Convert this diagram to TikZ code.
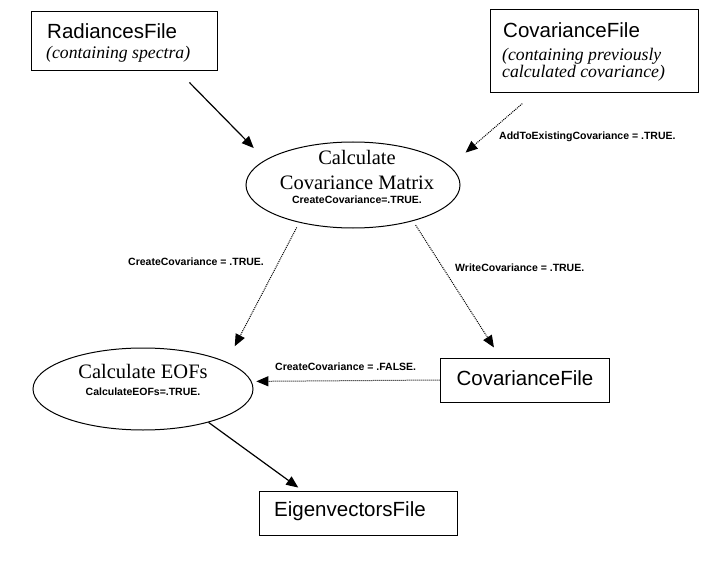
\documentclass[tikz,border=0pt]{standalone}
\usepackage{fontspec}
\setmainfont{Liberation Serif}
\setsansfont{Liberation Sans}
\usetikzlibrary{shapes.geometric,arrows.meta}
\begin{document}
\begin{tikzpicture}[x=1bp,y=-1bp,
  box/.style={draw, line width=1bp, rectangle, inner sep=0pt},
  oval/.style={draw, line width=1bp, ellipse, inner sep=0pt},
  ttl/.style={font=\sffamily\fontsize{20.5bp}{24bp}\selectfont, inner sep=0pt, anchor=base west},
  note/.style={font=\rmfamily\itshape\fontsize{17.7bp}{20bp}\selectfont, inner sep=0pt, anchor=base west},
  proc/.style={font=\rmfamily\fontsize{20.5bp}{24bp}\selectfont, inner sep=0pt, anchor=base},
  flag/.style={font=\sffamily\bfseries\fontsize{10.5bp}{12bp}\selectfont, inner sep=0pt, anchor=base west},
  solidarrow/.style={line width=1.2bp, -{Triangle[length=12bp,width=10bp]}},
  dotarrow/.style={line width=1bp, dash pattern=on 1bp off 1bp, -{Triangle[length=12bp,width=10bp]}},
]
\useasboundingbox (0,0) rectangle (714,568);

% boxes and ovals
\node[box, minimum width=185bp, minimum height=59bp] (rad) at (124.5,41.5) {};
\node[ttl] (radt) at (47,38.5) {RadiancesFile};
\node[note] (radn) at (46,58.5) {(containing spectra)};

\node[box, minimum width=208bp, minimum height=83bp] (cft) at (594,51.5) {};
\node[ttl] (cftt) at (503,38) {CovarianceFile};
\node[note] (cftn1) at (502,61) {(containing previously};
\node[note] (cftn2) at (502,78) {calculated covariance)};

\node[oval, minimum width=214bp, minimum height=86bp] (cov) at (353,185) {};
\node[proc] (cov1) at (357,165) {Calculate};
\node[proc] (cov2) at (357,190) {Covariance Matrix};
\node[flag, anchor=base] (cov3) at (357,204) {CreateCovariance=.TRUE.};

\node[oval, minimum width=220bp, minimum height=82bp] (eofs) at (143,389) {};
\node[proc] (eofs1) at (143,378) {Calculate EOFs};
\node[flag, anchor=base] (eofs2) at (143,395) {CalculateEOFs=.TRUE.};

\node[box, minimum width=169bp, minimum height=44bp] (cfb) at (524.5,380) {};
\node[ttl, anchor=base] (cfbt) at (525,385) {CovarianceFile};

\node[box, minimum width=198bp, minimum height=44bp] (eig) at (358,513) {};
\node[ttl] (eigt) at (274,516) {EigenvectorsFile};

% connector labels
\node[flag] (l1) at (499,140) {AddToExistingCovariance = .TRUE.};
\node[flag] (l2) at (128,265) {CreateCovariance = .TRUE.};
\node[flag] (l3) at (455,271) {WriteCovariance = .TRUE.};
\node[flag] (l4) at (275,370) {CreateCovariance = .FALSE.};

% connectors
\draw[solidarrow, shorten <=15.4bp, shorten >=16.5bp] (rad.-29.7) -- (cov.164.6);
\draw[dotarrow, shorten <=15.5bp, shorten >=20.7bp] (cft.-145.4) -- (cov.11.6);
\draw[dotarrow, shorten <=5.4bp, shorten >=17.6bp] (cov.-145.1) -- (eofs.18.6);
\draw[dotarrow, shorten <=4.75bp, shorten >=11.9bp] (cov.-31.65) -- (cfb.137.5);
\draw[dotarrow, shorten >=4.7bp] (cfb.west) -- (eofs.4.79);
\draw[solidarrow, shorten >=5bp] (eofs.-27) -- (eig.158.9);
\end{tikzpicture}
\end{document}
